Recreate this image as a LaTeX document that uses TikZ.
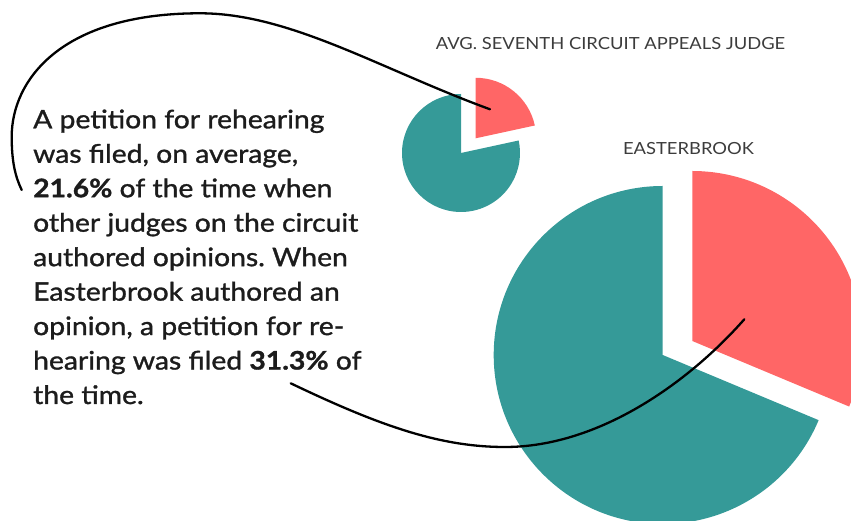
\documentclass[tikz,border=0pt]{standalone}
\usepackage{fontspec}
\setmainfont{Lato}
\newfontfamily\bodyfont{Lato}[FakeBold=1.2, FakeStretch=1.11]
\newfontfamily\labelfont{Lato}[FakeStretch=1.1]
\definecolor{pieteal}{RGB}{53,154,152}
\definecolor{piered}{RGB}{255,102,102}
\definecolor{textdark}{RGB}{28,28,28}
\definecolor{labelgray}{RGB}{60,60,60}
\frenchspacing
\tikzset{
  tealslice/.style={fill=pieteal},
  redslice/.style={fill=piered},
  pielabel/.style={font=\labelfont\fontsize{16.7}{20}\selectfont, text=labelgray, inner sep=0pt, anchor=base},
  connector/.style={draw=black, line width=2.3pt, line cap=round},
}
\begin{document}
\begin{tikzpicture}[x=1pt,y=1pt]
\useasboundingbox (0,0) rectangle (851,521);
\clip (0,0) rectangle (851,521);
% small pie (average judge, 21.6%)
\fill[tealslice] (461,368) -- ++(90:59) arc[start angle=90, end angle=372.24, radius=59] -- cycle;
\fill[redslice] (475.7,382.7) -- ++(12.24:60.5) arc[start angle=12.24, end angle=90, radius=60.5] -- cycle;
% large pie (Easterbrook, 31.3%)
\fill[tealslice] (662.7,166) -- ++(90:169) arc[start angle=90, end angle=337.32, radius=169] -- cycle;
\fill[redslice] (692.3,180) -- ++(-22.68:170) arc[start angle=-22.68, end angle=90, radius=170] -- cycle;
% labels
\node[pielabel] (avg) at (610.5,471.7) {AVG. SEVENTH CIRCUIT APPEALS JUDGE};
\node[pielabel] (eb) at (688.5,366) {EASTERBROOK};
% body text
\node[anchor=base west, align=left, inner sep=0pt, text=textdark,
      font=\bodyfont\fontsize{25.5}{34.46}\selectfont] (txt) at (33,117)
  {A petition for rehearing\\
   was filed, on average,\\
   \textbf{21.6\%} of the time when\\
   other judges on the circuit\\
   authored opinions. When\\
   Easterbrook authored an\\
   opinion, a petition for re-\\
   hearing was filed \textbf{31.3\%} of\\
   the time.};
% connectors
\coordinate (smallred) at (490,411.7);
\coordinate (txtA) at (21.7,331);
\coordinate (bigred) at (744.3,201.7);
\coordinate (txtB) at (290.7,137.7);
\draw[connector] (smallred) .. controls (380,452) and (290,507.7) .. (200,507.7)
   .. controls (60,507.7) and (11.7,440) .. (11.7,384.3)
   .. controls (11.7,360) and (15,345) .. (txtA);
\draw[connector] (txtB) .. controls (380,95) and (440,74) .. (505,74)
   .. controls (600,74) and (690,140) .. (bigred);
\end{tikzpicture}
\end{document}
